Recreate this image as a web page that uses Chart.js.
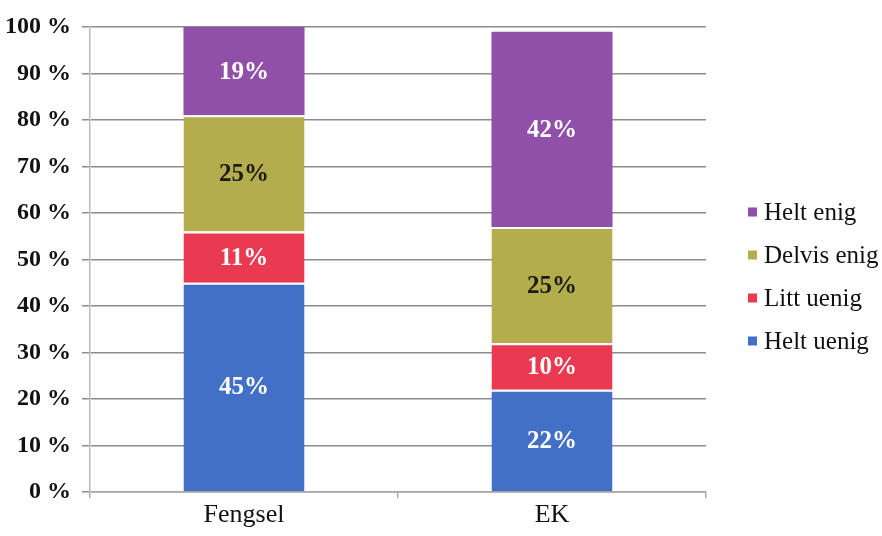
<!DOCTYPE html>
<html>
<head>
<meta charset="utf-8">
<script src="https://cdn.jsdelivr.net/npm/chart.js@4/dist/chart.umd.min.js"></script>
<style>
  html, body { margin: 0; padding: 0; background: #fff; }
  #wrap { width: 882px; height: 536px; }
</style>
</head>
<body>
<div id="wrap"><canvas id="c" width="882" height="536"></canvas></div>
<script>
// Categories and answer shares (percent)
const categories = ['Fengsel', 'EK'];
const heltUenig  = [45, 22];
const littUenig  = [11, 10];
const delvisEnig = [25, 25];
const heltEnig   = [19, 42];
const yTicks = [0, 10, 20, 30, 40, 50, 60, 70, 80, 90, 100];

const serif = '"Liberation Serif", "Times New Roman", serif';

const series = [
  { label: 'Helt uenig',  data: heltUenig,  color: '#4270c6', text: '#ffffff' },
  { label: 'Litt uenig',  data: littUenig,  color: '#e93a52', text: '#ffffff' },
  { label: 'Delvis enig', data: delvisEnig, color: '#b3ad4c', text: '#1a1a1a' },
  { label: 'Helt enig',   data: heltEnig,   color: '#9050aa', text: '#ffffff' }
];

// Percentage labels in the middle of each segment
const segmentLabels = {
  id: 'segmentLabels',
  afterDatasetsDraw(chart) {
    const ctx = chart.ctx;
    ctx.save();
    ctx.font = 'bold 25px ' + serif;
    ctx.textAlign = 'center';
    ctx.textBaseline = 'middle';
    chart.data.datasets.forEach((ds, i) => {
      const meta = chart.getDatasetMeta(i);
      meta.data.forEach((bar, j) => {
        const v = ds.data[j];
        ctx.fillStyle = series[i].text;
        ctx.fillText(v + '%', bar.x, (bar.y + bar.base) / 2 + 1);
      });
    });
    ctx.restore();
  }
};

// Legend on the right, top series first
const sideLegend = {
  id: 'sideLegend',
  afterDraw(chart) {
    const ctx = chart.ctx;
    const area = chart.chartArea;
    const x0 = area.right + 42;
    const y0 = 212;
    const step = 43;
    ctx.save();
    ctx.font = '25px ' + serif;
    ctx.textAlign = 'left';
    ctx.textBaseline = 'middle';
    const order = chart.data.datasets.map((d, i) => i).reverse();
    order.forEach((idx, row) => {
      const ds = chart.data.datasets[idx];
      const y = y0 + row * step;
      ctx.fillStyle = ds.backgroundColor;
      ctx.fillRect(x0, y - 4.5, 9, 9);
      ctx.fillStyle = '#111';
      ctx.fillText(ds.label, x0 + 16, y + 1);
    });
    ctx.restore();
  }
};

new Chart(document.getElementById('c'), {
  type: 'bar',
  data: {
    labels: categories,
    datasets: series.map((s, i) => ({
      label: s.label,
      data: s.data,
      backgroundColor: s.color,
      borderColor: '#ffffff',
      borderWidth: { top: i === series.length - 1 ? 0 : 2, bottom: 0, left: 0, right: 0 },
      borderSkipped: false,
      categoryPercentage: 1.0,
      barPercentage: 0.393
    }))
  },
  options: {
    responsive: false,
    animation: false,
    devicePixelRatio: 1,
    layout: { padding: { left: 0, right: 176, top: 27, bottom: 0 } },
    plugins: {
      legend: { display: false },
      tooltip: { enabled: false }
    },
    scales: {
      x: {
        stacked: true,
        offset: true,
        afterFit(scale) { scale.height = 44; },
        grid: {
          display: true,
          drawOnChartArea: false,
          offset: true,
          tickLength: 6,
          color: '#b0a8b8',
          lineWidth: 1.5
        },
        border: { display: true, color: '#aaa3b2', width: 1.5 },
        ticks: {
          color: '#111',
          font: { family: serif, size: 26 },
          padding: 2
        }
      },
      y: {
        stacked: true,
        min: 0,
        max: 100,
        afterFit(scale) { scale.width = 90; },
        afterBuildTicks(scale) { scale.ticks = yTicks.map(v => ({ value: v })); },
        grid: {
          color: '#8e8994',
          lineWidth: 1.5,
          tickLength: 8
        },
        border: { display: true, color: '#c0b6cc', width: 1.5 },
        ticks: {
          color: '#111',
          font: { family: serif, size: 24, weight: 'bold' },
          padding: 11,
          callback: v => v + ' %'
        }
      }
    }
  },
  plugins: [segmentLabels, sideLegend]
});
</script>
</body>
</html>
